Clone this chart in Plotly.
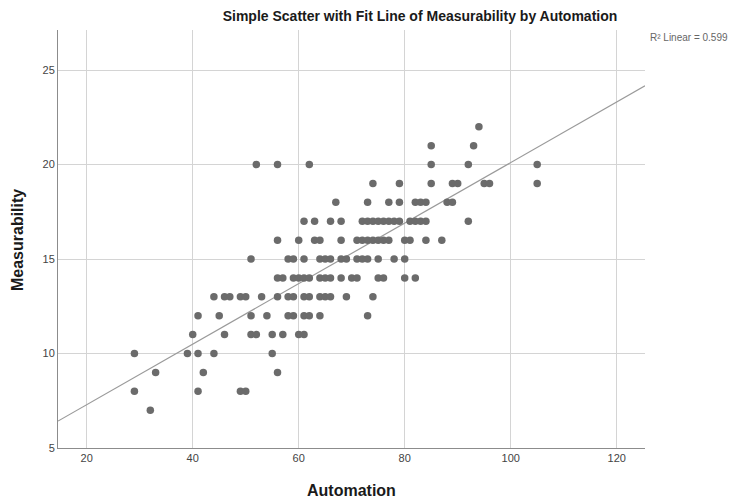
import numpy as np
import plotly.graph_objects as go

# Observations grouped by Measurability score: Automation scores at each level
measurability_levels = [7, 8, 9, 10, 11, 12, 13, 14, 15, 16, 17, 18, 19, 20, 21, 22]
automation_by_level = [
    [32],
    [29, 41, 49, 50],
    [33, 42, 56],
    [29, 39, 41, 44, 55],
    [40, 46, 51, 52, 55, 57, 60, 61],
    [41, 45, 51, 54, 58, 59, 61, 62, 64, 73],
    [44, 46, 47, 49, 50, 53, 56, 58, 59, 61, 62, 64, 65, 66, 69, 74],
    [56, 57, 59, 60, 61, 62, 64, 65, 66, 68, 70, 71, 75, 76, 80, 82],
    [51, 58, 59, 61, 64, 65, 66, 68, 69, 71, 72, 73, 75, 78, 80],
    [56, 60, 63, 64, 68, 71, 72, 73, 74, 75, 76, 77, 80, 81, 84, 87],
    [61, 63, 66, 68, 72, 73, 74, 75, 76, 77, 78, 79, 81, 82, 83, 84, 92],
    [67, 73, 77, 79, 82, 83, 84, 88, 89],
    [74, 79, 85, 89, 90, 95, 96, 105],
    [52, 56, 62, 85, 92, 105],
    [85, 93],
    [94],
]

x_ticks = [20, 40, 60, 80, 100, 120]
y_ticks = [5, 10, 15, 20, 25]
x_range = [14.58, 125.34]
y_range = [5, 27.12]
r2_label = "R² Linear = 0.599"

automation = []
measurability = []
for level, xs in zip(measurability_levels, automation_by_level):
    automation.extend(xs)
    measurability.extend([level] * len(xs))
automation = np.array(automation, dtype=float)
measurability = np.array(measurability, dtype=float)

# Least-squares fit line spanning the full x axis
slope, intercept = np.polyfit(automation, measurability, 1)
fit_x = np.array(x_range)
fit_y = intercept + slope * fit_x

font_family = "Liberation Sans, Arial, sans-serif"
grid_col = "#d4d4d4"
axis_col = "#8c8c8c"

fig = go.Figure()
fig.add_trace(go.Scatter(
    x=fit_x, y=fit_y, mode="lines",
    line=dict(color="#9a9a9a", width=1.2),
    hoverinfo="skip", showlegend=False,
))
fig.add_trace(go.Scatter(
    x=automation, y=measurability, mode="markers",
    marker=dict(color="#6b6b6b", size=7.5, line=dict(width=0)),
    showlegend=False,
))

fig.update_layout(
    width=737, height=501,
    margin=dict(l=58, r=92, t=30, b=53),
    paper_bgcolor="white", plot_bgcolor="white",
    font=dict(family=font_family, color="#444444", size=11),
    title=dict(
        text="<b>Simple Scatter with Fit Line of Measurability by Automation</b>",
        x=420 / 737, xref="container", xanchor="center",
        y=1 - 16 / 501, yref="container", yanchor="middle",
        font=dict(size=14, color="#1a1a1a", family=font_family),
    ),
    xaxis=dict(
        range=x_range, tickvals=x_ticks, showgrid=True, gridcolor=grid_col,
        gridwidth=1, zeroline=False, showline=True, linecolor=axis_col,
        linewidth=1, ticks="", tickfont=dict(size=11, color="#444444"),
        fixedrange=True,
    ),
    yaxis=dict(
        range=y_range, tickvals=y_ticks, showgrid=True, gridcolor=grid_col,
        gridwidth=1, zeroline=False, showline=True, linecolor=axis_col,
        linewidth=1, ticks="", tickfont=dict(size=11, color="#444444"),
        fixedrange=True,
    ),
    annotations=[
        dict(text="<b>Automation</b>", xref="paper", yref="paper",
             x=0.5008, y=-0.1005, xanchor="center", yanchor="middle",
             showarrow=False, font=dict(size=16, color="#1a1a1a")),
        dict(text="<b>Measurability</b>", xref="paper", yref="paper",
             x=-0.0698, y=0.4976, xanchor="center", yanchor="middle",
             textangle=-90, showarrow=False,
             font=dict(size=16, color="#1a1a1a")),
        dict(text=r2_label, xref="paper", yref="paper",
             x=1.005, y=0.981, xanchor="left", yanchor="middle",
             showarrow=False, font=dict(size=10, color="#666666")),
    ],
)

fig.write_html("out.html")
